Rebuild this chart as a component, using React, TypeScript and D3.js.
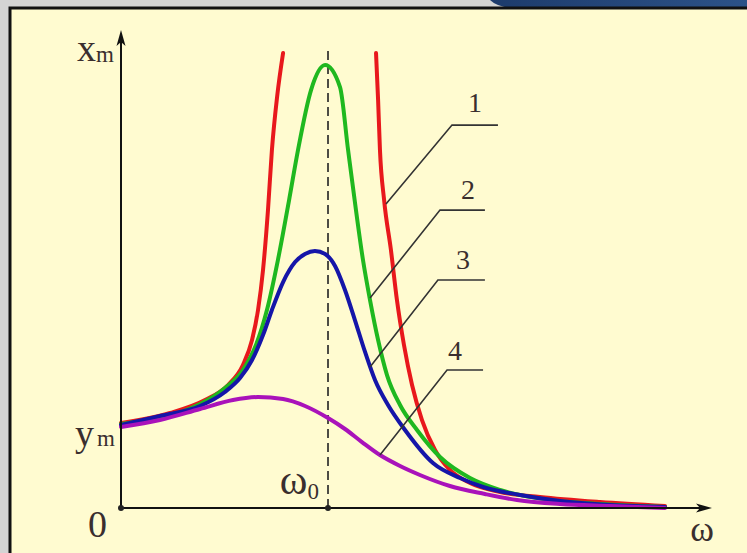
import * as d3 from "d3";

// ω / ω0 and x_m / y_m
const redLeftW = [0, 0.237, 0.406, 0.517, 0.589, 0.633, 0.662, 0.686, 0.71, 0.729, 0.754, 0.783];
const redLeftA = [1.024, 1.145, 1.301, 1.482, 1.723, 2.024, 2.386, 2.867, 3.59, 4.313, 4.952, 5.482];
const redRightW = [1.232, 1.242, 1.251, 1.271, 1.304, 1.333, 1.367, 1.406, 1.454, 1.517, 1.589, 1.686, 1.831, 2.024, 2.314, 2.628];
const redRightA = [5.482, 4.916, 4.313, 3.711, 3.108, 2.506, 1.964, 1.482, 1.060, 0.699, 0.458, 0.301, 0.193, 0.133, 0.072, 0.024];
const greenW = [0, 0.382, 0.502, 0.589, 0.652, 0.705, 0.758, 0.812, 0.855, 0.918, 0.986, 1.058, 1.097, 1.135, 1.169, 1.203, 1.242, 1.285, 1.348, 1.43, 1.541, 1.686, 1.831, 2.072, 2.314, 2.628];
const greenA = [1.012, 1.253, 1.446, 1.663, 1.964, 2.386, 2.988, 3.711, 4.313, 5.036, 5.337, 5.072, 4.313, 3.590, 2.988, 2.506, 2.024, 1.602, 1.241, 0.940, 0.614, 0.361, 0.217, 0.096, 0.048, 0.012];
const blueW = [0, 0.188, 0.382, 0.502, 0.575, 0.633, 0.686, 0.729, 0.783, 0.841, 0.889, 0.937, 0.986, 1.034, 1.082, 1.13, 1.179, 1.227, 1.29, 1.372, 1.507, 1.638, 1.749, 1.928, 2.121, 2.362, 2.628];
const blueA = [1.0, 1.108, 1.229, 1.398, 1.566, 1.783, 2.084, 2.386, 2.723, 2.964, 3.060, 3.096, 3.060, 2.916, 2.627, 2.265, 1.880, 1.542, 1.241, 0.940, 0.542, 0.361, 0.253, 0.157, 0.084, 0.036, 0.012];
const purpleW = [0, 0.188, 0.382, 0.541, 0.662, 0.783, 0.889, 1.0, 1.082, 1.164, 1.251, 1.348, 1.444, 1.589, 1.758, 1.913, 2.121, 2.362, 2.628];
const purpleA = [0.976, 1.060, 1.193, 1.301, 1.337, 1.313, 1.229, 1.084, 0.952, 0.795, 0.638, 0.506, 0.398, 0.265, 0.169, 0.096, 0.048, 0.024, 0.0];

// curve labels: text, touch point on curve, elbow, end of shelf, text anchor
const labelNames = ["1", "2", "3", "4"];
const labelTouch = [[1.28, 3.663], [1.203, 2.53], [1.203, 1.699], [1.251, 0.638]];
const labelElbow = [[1.599, 4.614], [1.541, 3.59], [1.531, 2.747], [1.575, 1.663]];
const labelEndW = [1.821, 1.758, 1.758, 1.749];
const labelText = [[1.71, 4.771], [1.676, 3.723], [1.652, 2.88], [1.614, 1.783]];

const wMax = 2.855;
const aMax = 5.76;
const dashTop = 5.54;

const zip = (w: number[], a: number[]) => w.map((d, i) => [d, a[i]] as [number, number]);

export default function App() {
  const width = 747;
  const height = 553;

  const x = d3.scaleLinear().domain([0, wMax]).range([121, 712]);
  const y = d3.scaleLinear().domain([0, aMax]).range([508, 30]);

  const line = d3
    .line<[number, number]>()
    .x((d) => x(d[0]))
    .y((d) => y(d[1]))
    .curve(d3.curveMonotoneX);

  const series = [
    { pts: zip(redLeftW, redLeftA), color: "#e8181c" },
    { pts: zip(redRightW, redRightA), color: "#e8181c" },
    { pts: zip(greenW, greenA), color: "#1fb81f" },
    { pts: zip(blueW, blueA), color: "#1515a8" },
    { pts: zip(purpleW, purpleA), color: "#a912ba" },
  ];

  const serif = "'Liberation Serif', 'DejaVu Serif', serif";
  const ink = "#3a2e2e";

  return (
    <svg
      width={width}
      height={height}
      style={{ position: "absolute", left: 0, top: 0 }}
    >
      <defs>
        <linearGradient id="navy" x1="0" y1="0" x2="1" y2="0">
          <stop offset="0" stopColor="#1d3b6c" />
          <stop offset="1" stopColor="#2c5288" />
        </linearGradient>
      </defs>
      {/* page frame */}
      <rect x={0} y={0} width={width} height={height} fill="#d4d4d4" />
      <path d="M490,0 Q496,6 510,8 L747,8 L747,0 Z" fill="url(#navy)" />
      <rect x={10} y={8} width={width} height={height} fill="#fffbd0" stroke="#111" strokeWidth={3} />

      {/* dashed ω0 line */}
      <line
        x1={x(1)}
        x2={x(1)}
        y1={y(0)}
        y2={y(dashTop)}
        stroke="#222"
        strokeWidth={1.6}
        strokeDasharray="9 5"
      />

      {/* curves */}
      {series.map((s, i) => (
        <path
          key={i}
          d={line(s.pts) ?? ""}
          fill="none"
          stroke={s.color}
          strokeWidth={4}
          strokeLinecap="round"
          strokeLinejoin="round"
        />
      ))}

      {/* leaders and numbers */}
      {labelNames.map((n, i) => (
        <g key={n}>
          <polyline
            points={[
              [x(labelTouch[i][0]), y(labelTouch[i][1])],
              [x(labelElbow[i][0]), y(labelElbow[i][1])],
              [x(labelEndW[i]), y(labelElbow[i][1])],
            ]
              .map((p) => p.join(","))
              .join(" ")}
            fill="none"
            stroke="#333"
            strokeWidth={1.6}
          />
          <text
            x={x(labelText[i][0])}
            y={y(labelText[i][1])}
            textAnchor="middle"
            fontFamily={serif}
            fontSize={28}
            fill={ink}
          >
            {n}
          </text>
        </g>
      ))}

      {/* axes */}
      <line x1={x(0)} x2={x(0)} y1={y(0)} y2={y(aMax) + 10} stroke="#111" strokeWidth={2} />
      <path
        d={`M${x(0)},${y(aMax)} L${x(0) - 4.5},${y(aMax) + 16} L${x(0)},${y(aMax) + 12} L${x(0) + 4.5},${y(aMax) + 16} Z`}
        fill="#111"
      />
      <line x1={x(0)} x2={x(wMax) - 10} y1={y(0)} y2={y(0)} stroke="#111" strokeWidth={2} />
      <path
        d={`M${x(wMax)},${y(0)} L${x(wMax) - 16},${y(0) - 4.5} L${x(wMax) - 12},${y(0)} L${x(wMax) - 16},${y(0) + 4.5} Z`}
        fill="#111"
      />
      <circle cx={x(0)} cy={y(0)} r={3} fill="#222" />
      <circle cx={x(1)} cy={y(0)} r={3} fill="#222" />

      {/* axis labels */}
      <text x={x(0) - 7} y={y(aMax) + 31} textAnchor="end" fontFamily={serif} fontSize={38} fill={ink}>
        x<tspan fontSize={23} dy={1}>m</tspan>
      </text>
      <text x={x(0) - 6} y={y(1) + 21} textAnchor="end" fontFamily={serif} fontSize={38} fill={ink}>
        y<tspan fontSize={23} dx={3} dy={0}>m</tspan>
      </text>
      <text x={x(0) - 14} y={y(0) + 29} textAnchor="end" fontFamily={serif} fontSize={38} fill={ink}>
        0
      </text>
      <text x={x(1) - 9} y={y(0) - 14} textAnchor="end" fontFamily={serif} fontSize={42} fill={ink}>
        ω<tspan fontSize={23} dy={5}>0</tspan>
      </text>
      <text x={x(wMax) - 10} y={y(0) + 33} textAnchor="middle" fontFamily={serif} fontSize={36} fill={ink}>
        ω
      </text>
    </svg>
  );
}
